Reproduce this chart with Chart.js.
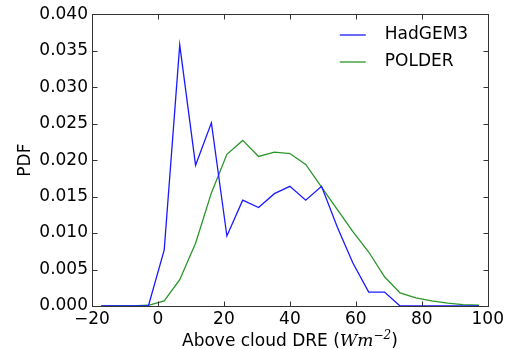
<!DOCTYPE html>
<html>
<head>
<meta charset="utf-8">
<script src="https://cdn.jsdelivr.net/npm/chart.js@4.4.0/dist/chart.umd.min.js"></script>
<style>
  body { margin: 0; background: #fff; }
</style>
</head>
<body>
<canvas id="pdfChart" width="507" height="349"></canvas>
<script>
// bin centres of above cloud DRE (W m-2)
const dre = [-17.2, -12.4, -7.7, -2.9, 1.9, 6.6, 11.4, 16.2, 20.9, 25.7, 30.5, 35.3, 40.0,
             44.8, 49.6, 54.4, 59.1, 63.9, 68.7, 73.4, 78.2, 83.0, 87.8, 92.5, 97.3];
const hadgem3 = [0, 0, 0, 0, 0.0077, 0.0358, 0.0193, 0.0251, 0.0096, 0.0145, 0.0135, 0.0154, 0.0164,
                 0.0145, 0.0164, 0.0108, 0.0059, 0.0019, 0.0019, 0, 0, 0, 0, 0, 0];
const polder = [0, 0, 0, 0.0001, 0.0007, 0.0036, 0.0086, 0.0155, 0.0208, 0.0227, 0.0205, 0.0211, 0.0209,
                0.0194, 0.0163, 0.0132, 0.0102, 0.0074, 0.0040, 0.0018, 0.0011, 0.0007, 0.0004, 0.0002, 0.0001];
const xTicks = [-20, 0, 20, 40, 60, 80, 100];
const yTicks = [0, 0.005, 0.01, 0.015, 0.02, 0.025, 0.03, 0.035, 0.04];

Chart.defaults.font.family = "'DejaVu Sans', sans-serif";
Chart.defaults.font.size = 17;
Chart.defaults.color = "#000";

function pts(ys) {
    return dre.map(function (x, i) { return { x: x, y: ys[i] }; });
}

// frame with inward ticks on all four sides, legend and x title (matplotlib look)
const mplFrame = {
    id: "mplFrame",
    afterDraw: function (chart) {
        const ctx = chart.ctx;
        const a = chart.chartArea;
        const xs = chart.scales.x, ys = chart.scales.y;
        const L = Math.round(a.left) + 0.5, R = Math.round(a.right) + 0.5;
        const T = Math.round(a.top) + 0.5, B = Math.round(a.bottom) + 0.5;
        ctx.save();
        ctx.strokeStyle = "#333";
        ctx.lineWidth = 1;
        ctx.strokeRect(L, T, R - L, B - T);
        ctx.beginPath();
        xTicks.forEach(function (v) {
            const p = Math.round(xs.getPixelForValue(v)) + 0.5;
            ctx.moveTo(p, B); ctx.lineTo(p, B - 5);
            ctx.moveTo(p, T); ctx.lineTo(p, T + 5);
        });
        yTicks.forEach(function (v) {
            const p = Math.round(ys.getPixelForValue(v)) + 0.5;
            ctx.moveTo(L, p); ctx.lineTo(L + 5, p);
            ctx.moveTo(R, p); ctx.lineTo(R - 5, p);
        });
        ctx.stroke();

        // legend, no frame
        ctx.textBaseline = "middle";
        ctx.textAlign = "left";
        ctx.font = "17px 'DejaVu Sans'";
        chart.data.datasets.forEach(function (ds, i) {
            const y = 35 + i * 27;
            ctx.strokeStyle = ds.borderColor;
            ctx.lineWidth = 1.3;
            ctx.beginPath();
            ctx.moveTo(a.right - 148, y);
            ctx.lineTo(a.right - 122, y);
            ctx.stroke();
            ctx.fillStyle = "#000";
            ctx.fillText(ds.label, a.right - 103, y);
        });

        // x axis title with math part
        const parts = [
            { t: "Above cloud DRE (", f: "17px 'DejaVu Sans'", dy: 0 },
            { t: "Wm", f: "italic 17px 'DejaVu Serif'", dy: 0 },
            { t: "\u22122", f: "italic 12px 'DejaVu Serif'", dy: -7 },
            { t: ")", f: "17px 'DejaVu Sans'", dy: 0 }
        ];
        let w = 0;
        parts.forEach(function (p) { ctx.font = p.f; p.w = ctx.measureText(p.t).width; w += p.w; });
        let x = (a.left + a.right) / 2 - w / 2;
        ctx.textBaseline = "alphabetic";
        parts.forEach(function (p) {
            ctx.font = p.f;
            ctx.fillText(p.t, x, 346 + p.dy);
            x += p.w;
        });
        ctx.restore();
    }
};

new Chart(document.getElementById("pdfChart").getContext("2d"), {
    type: "line",
    data: {
        datasets: [
            {
                label: "HadGEM3",
                data: pts(hadgem3),
                borderColor: "#1a1aff",
                borderWidth: 1.3,
                pointRadius: 0,
                tension: 0,
                fill: false
            },
            {
                label: "POLDER",
                data: pts(polder),
                borderColor: "#2a962a",
                borderWidth: 1.3,
                pointRadius: 0,
                tension: 0,
                fill: false
            }
        ]
    },
    options: {
        responsive: false,
        animation: false,
        layout: { padding: { top: 14, right: 19, left: 0, bottom: 0 } },
        scales: {
            x: {
                type: "linear",
                min: -20,
                max: 100,
                afterFit: function (s) { s.height = 43; },
                afterBuildTicks: function (s) { s.ticks = xTicks.map(function (v) { return { value: v }; }); },
                grid: { display: false, drawTicks: false },
                border: { display: false },
                ticks: {
                    padding: 3,
                    maxRotation: 0,
                    callback: function (v) { return v < 0 ? "\u2212" + Math.abs(v) : String(v); }
                }
            },
            y: {
                min: 0,
                max: 0.04,
                afterFit: function (s) { s.width = 92; },
                afterBuildTicks: function (s) { s.ticks = yTicks.map(function (v) { return { value: v }; }); },
                grid: { display: false, drawTicks: false },
                border: { display: false },
                ticks: {
                    padding: 4,
                    callback: function (v) { return v.toFixed(3); }
                },
                title: { display: true, text: "PDF", padding: { top: 15, bottom: 0 }, font: { size: 17 } }
            }
        },
        plugins: {
            legend: { display: false },
            tooltip: { enabled: false }
        }
    },
    plugins: [mplFrame]
});
</script>
</body>
</html>
